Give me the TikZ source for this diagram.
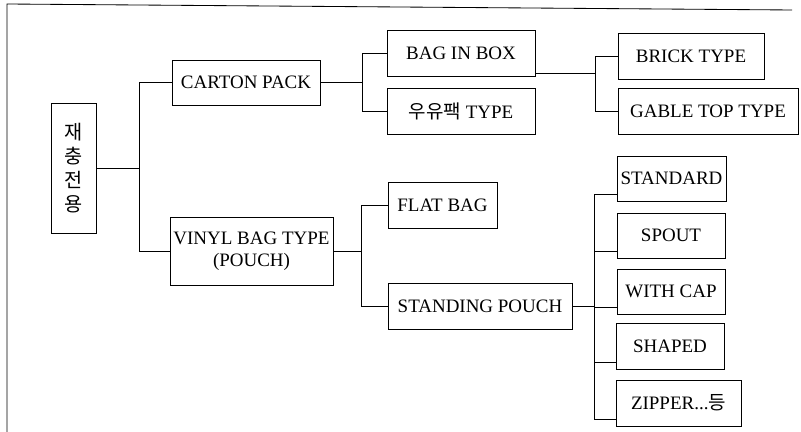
\documentclass[tikz,border=0pt]{standalone}
\usepackage{fontspec}
\setmainfont{Liberation Serif}
\newfontfamily\kor{Noto Sans CJK KR}
\usepackage{tikz}

\begin{document}
\begin{tikzpicture}[x=0.025cm,y=-0.025cm]
					\tikzstyle{box}=[draw=black,line width=0.6pt,inner sep=0pt,minimum height=1.15cm,font=\fontsize{13.5}{16}\selectfont,align=center]
					\tikzstyle{link}=[line width=0.6pt]
					\useasboundingbox (0,0) rectangle (801,432);
					% frame
					\draw[link] (7,432) -- (7,4) -- (792,10);
					\node[box,minimum width=1.125cm,minimum height=3.25cm,font=\kor\fontsize{14}{17}\selectfont] (1) at (73.5,168) {재\\충\\전\\용};
					\node[box,minimum width=3.7cm,minimum height=1.125cm] (2) at (246,82.5) {CARTON PACK};
					\node[box,minimum width=4.075cm,minimum height=1.7cm] (3) at (251.5,251) {VINYL BAG TYPE\\(POUCH)};
					\node[box,minimum width=3.7cm] (4) at (461,53) {BAG IN BOX};
					\node[box,minimum width=3.7cm] (5) at (461,111.5) {{\kor 우유팩} TYPE};
					\node[box,minimum width=2.725cm] (6) at (442.5,205) {FLAT BAG};
					\node[box,minimum width=4.6cm] (7) at (480,306.5) {STANDING POUCH};
					\node[box,minimum width=3.65cm] (8) at (691,56.5) {BRICK TYPE};
					\node[box,minimum width=4.5cm] (9) at (708,111) {GABLE TOP TYPE};
					\node[box,minimum width=2.725cm,minimum height=1.125cm] (10) at (671.5,178.5) {STANDARD};
					\node[box,minimum width=2.7cm,minimum height=1.125cm] (11) at (671,235.5) {SPOUT};
					\node[box,minimum width=2.7cm,minimum height=1.125cm] (12) at (671,291.5) {WITH CAP};
					\node[box,minimum width=2.7cm] (13) at (670,346) {SHAPED};
					\node[box,minimum width=3.125cm] (14) at (678.5,403) {ZIPPER...{\kor 등}};
					% connectors
					\draw[link] (1.east) -- ++(44,0);
					\draw[link] (2.west) -- ++(-32,0) |- (3.west);
					\draw[link] (2.east) -- ++(43,0);
					\draw[link] (4.west) -- ++(-24,0) |- (5.west);
					\draw[link] ([yshift=2pt]4.south east) -- ++(61,0);
					\draw[link] (8.west) -- ++(-22,0) |- (9.west);
					\draw[link] (3.east) -- ++(29,0);
					\draw[link] (6.west) -- ++(-26,0) |- (7.west);
					\draw[link] (7.east) -- ++(23,0);
					\draw[link] ([yshift=5pt]10.south west) -- ++(-22,0) |- ([yshift=5pt]14.south west);
					\foreach \n in {11,12,13}
						\draw[link] ([yshift=5pt]\n.south west) -- ++(-22,0);
					\end{tikzpicture}
\end{document}
